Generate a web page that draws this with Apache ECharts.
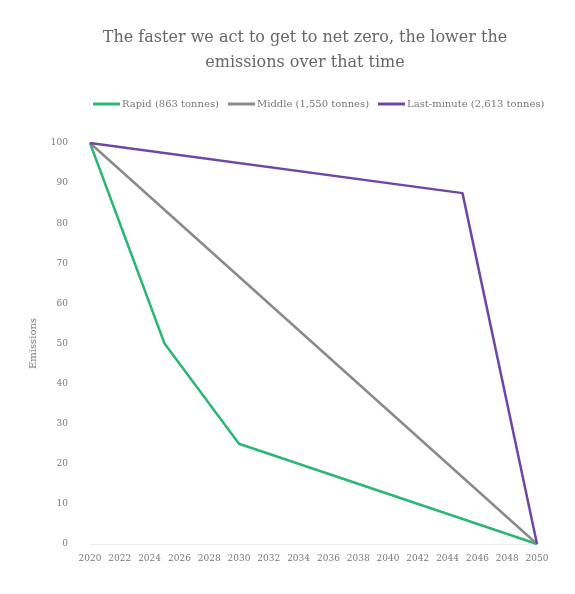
<!DOCTYPE html>
<html><head><meta charset="utf-8">
<script src="https://cdn.jsdelivr.net/npm/echarts@6/dist/echarts.min.js"></script>
<style>html,body{margin:0;padding:0;background:#fff}#c{width:575px;height:594px}</style>
</head><body><div id="c"></div>
<script>
const titleText = 'The faster we act to get to net zero, the lower the\nemissions over that time';
const yAxisName = 'Emissions';
const rapidName = 'Rapid (863 tonnes)';
const middleName = 'Middle (1,550 tonnes)';
const lastName = 'Last-minute (2,613 tonnes)';
const rapidYears = [2020, 2025, 2030, 2050];
const rapidValues = [100, 50, 25, 0];
const middleYears = [2020, 2050];
const middleValues = [100, 0];
const lastYears = [2020, 2045, 2050];
const lastValues = [100, 87.5, 0];

const font = '"DejaVu Serif", "Liberation Serif", serif';
const pair = (xs, ys) => xs.map((x, i) => [x, ys[i]]);
const chart = echarts.init(document.getElementById('c'));
chart.setOption({
  animation: false,
  title: {
    text: titleText, left: 300, top: 20, textAlign: 'center',
    textStyle: { fontFamily: font, fontWeight: 'normal', fontSize: 16, color: '#666', lineHeight: 25 }
  },
  legend: {
    top: 94, left: 88, itemWidth: 27, itemHeight: 3, itemGap: 9,
    icon: 'rect',
    textStyle: { fontFamily: font, fontSize: 10, color: '#777', padding: [0, 0, 0, -3] },
    data: [rapidName, middleName, lastName]
  },
  grid: { left: 90, right: 38, top: 143, bottom: 50 },
  xAxis: {
    type: 'value', min: 2020, max: 2050, interval: 2,
    axisLine: { show: true, lineStyle: { color: '#eee' } },
    axisTick: { show: false }, splitLine: { show: false },
    axisLabel: { fontFamily: font, fontSize: 9, color: '#777', margin: 10, formatter: v => String(v) }
  },
  yAxis: {
    type: 'value', min: 0, max: 100, interval: 10,
    name: yAxisName, nameLocation: 'middle', nameGap: 52,
    nameTextStyle: { fontFamily: font, fontSize: 10, color: '#777' },
    axisLine: { show: false }, axisTick: { show: false }, splitLine: { show: false },
    axisLabel: { fontFamily: font, fontSize: 9, color: '#777', margin: 22 }
  },
  series: [
    { name: rapidName, type: 'line', data: pair(rapidYears, rapidValues), symbol: 'none',
      lineStyle: { width: 2.5, color: '#2bb673' }, itemStyle: { color: '#2bb673' } },
    { name: middleName, type: 'line', data: pair(middleYears, middleValues), symbol: 'none',
      lineStyle: { width: 2.5, color: '#8a8a8a' }, itemStyle: { color: '#8a8a8a' } },
    { name: lastName, type: 'line', data: pair(lastYears, lastValues), symbol: 'none',
      lineStyle: { width: 2.5, color: '#6f46a8' }, itemStyle: { color: '#6f46a8' } }
  ]
});
</script></body></html>
